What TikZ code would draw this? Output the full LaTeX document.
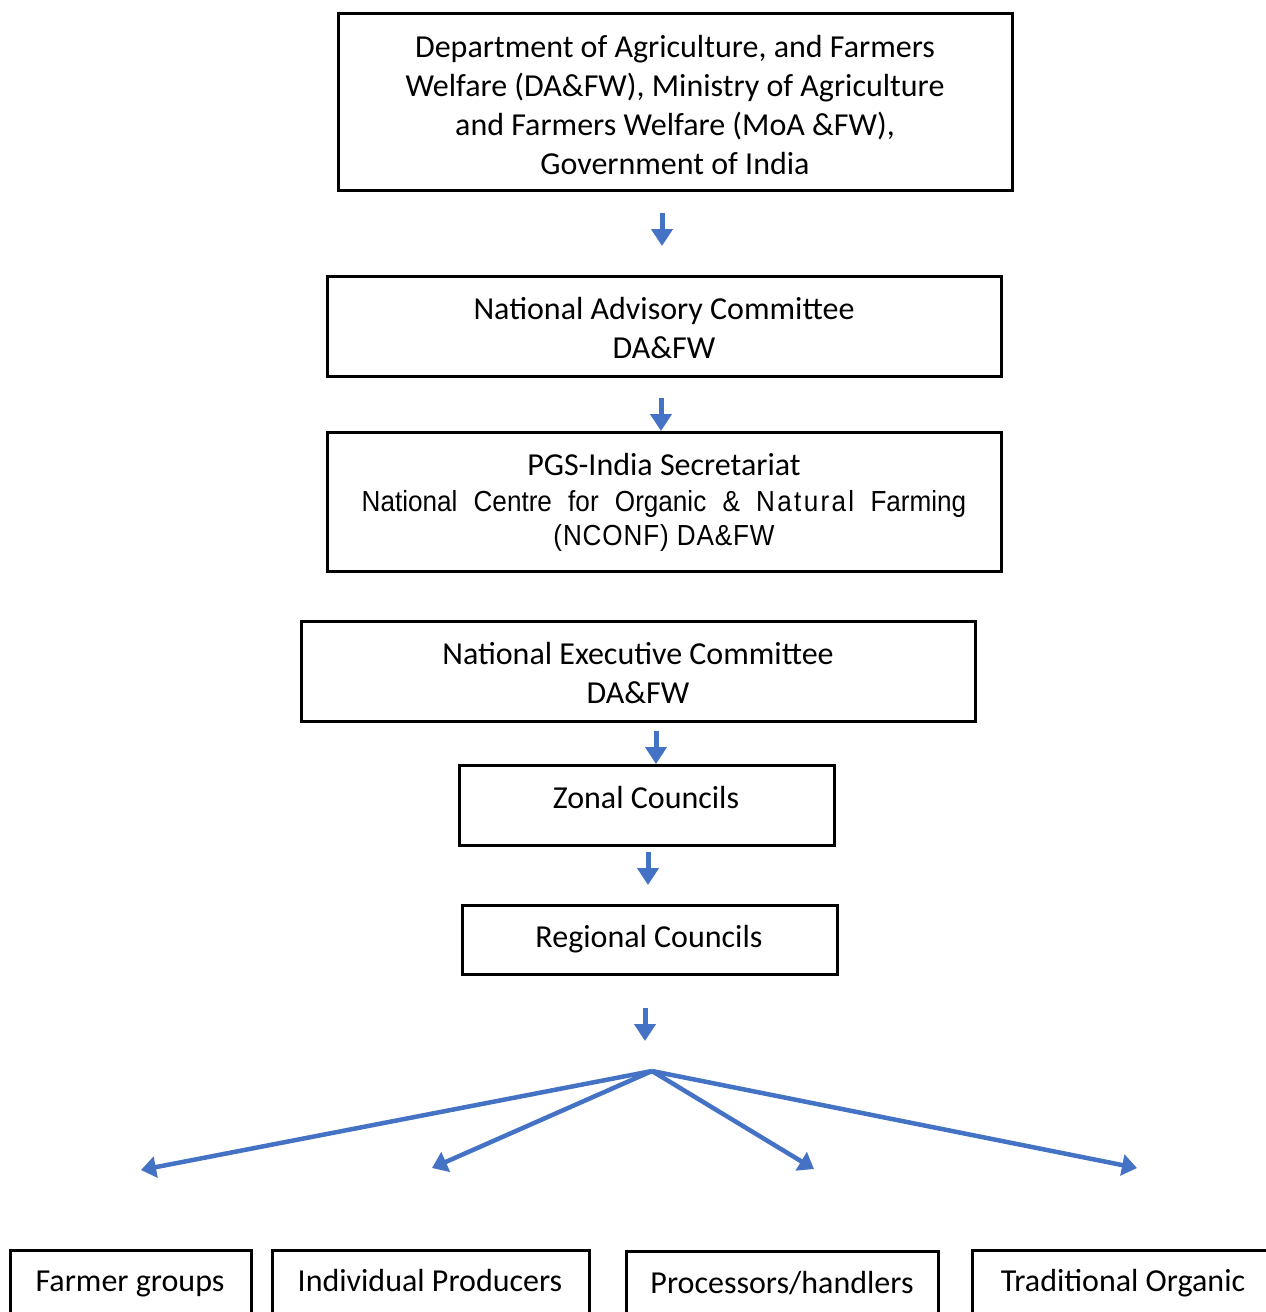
\documentclass[tikz,border=0pt]{standalone}
\usepackage{fontspec}
\setmainfont{Carlito}
\newfontfamily\arialf[FakeStretch=0.9]{Liberation Sans}
\usetikzlibrary{arrows.meta}
\definecolor{arrblue}{HTML}{4472C4}
\begin{document}
\begin{tikzpicture}[x=1pt,y=-1pt,
  box/.style={draw=black,line width=3pt,rectangle,inner sep=0pt,align=center,
    font=\fontsize{32}{39.3}\selectfont},
  lbl/.style={inner sep=0pt,anchor=base,font=\fontsize{32}{39.3}\selectfont},
  smallarr/.style={draw=arrblue,line width=5pt,-{Triangle[width=21pt,length=17pt]}},
  fanarr/.style={draw=arrblue,line width=4.5pt,-{Triangle[width=21pt,length=15pt]}}]
\useasboundingbox (0,0) rectangle (1266,1312);
\clip (0,0) rectangle (1266,1312);
\node[box,minimum width=674,minimum height=177] (dept) at (675,101.5) {};
\node[lbl,align=center,anchor=center] (deptT) at (675,105)
  {Department of Agriculture, and Farmers\\Welfare (DA\&FW), Ministry of Agriculture\\and Farmers Welfare (MoA \&FW),\\Government of India};
\node[box,minimum width=674,minimum height=100] (nac) at (664,326) {};
\node[lbl,align=center,anchor=center] (nacT) at (664,328)
  {National Advisory Committee\\DA\&FW};
\node[box,minimum width=674,minimum height=139] (sec) at (664,501.5) {};
\node[lbl] (secT1) at (664,475) {PGS-India Secretariat};
\node[lbl,font=\arialf\fontsize{29}{35}\selectfont] (secT2) at (664,511)
  {National\hspace{9pt} Centre\hspace{9pt} for\hspace{9pt} Organic\hspace{9pt} \&\hspace{9pt} {\addfontfeature{LetterSpace=8}Natural}\hspace{9pt} Farming};
\node[lbl,font=\arialf\fontsize{29}{35}\selectfont] (secT3) at (664,545)
  {{\addfontfeature{LetterSpace=3}(NCONF)}\hspace{8pt}{\addfontfeature{LetterSpace=3}DA\&FW}};
\node[box,minimum width=674,minimum height=100] (nec) at (638,671) {};
\node[lbl,align=center,anchor=center] (necT) at (638,673)
  {National Executive Committee\\DA\&FW};
\node[box,minimum width=375,minimum height=80] (zonal) at (646.5,805) {};
\node[lbl] (zonalT) at (646,808) {Zonal Councils};
\node[box,minimum width=375,minimum height=69] (regional) at (649.5,939.5) {};
\node[lbl] (regionalT) at (649,947) {Regional Councils};
\node[box,minimum width=241,minimum height=120,anchor=north] (farmer) at (130.5,1249) {};
\node[lbl] (farmerT) at (130,1291) {Farmer groups};
\node[box,minimum width=317,minimum height=120,anchor=north] (indiv) at (430.5,1249) {};
\node[lbl] (indivT) at (430,1291) {Individual Producers};
\node[box,minimum width=312,minimum height=120,anchor=north] (proc) at (782,1250) {};
\node[lbl] (procT) at (782,1293) {Processors/handlers};
\node[box,minimum width=330,minimum height=120,anchor=north] (trad) at (1137,1249) {};
\node[lbl] (tradT) at (1123,1291) {Traditional Organic};
% small arrows
\coordinate (a1s) at (662,213); \coordinate (a1e) at (662,246);
\coordinate (a2s) at (661,398); \coordinate (a2e) at (661,431);
\coordinate (a3s) at (656,731); \coordinate (a3e) at (656,764);
\coordinate (a4s) at (648,852); \coordinate (a4e) at (648,885);
\coordinate (a5s) at (645,1008); \coordinate (a5e) at (645,1041);
\foreach \s/\e in {a1s/a1e,a2s/a2e,a3s/a3e,a4s/a4e,a5s/a5e}
  \draw[smallarr] (\s) -- (\e);
% fan
\coordinate (apex) at (652,1071);
\coordinate (f1) at (141,1170);
\coordinate (f2) at (432,1168);
\coordinate (f3) at (814,1169);
\coordinate (f4) at (1137,1168);
\foreach \e in {f1,f2,f3,f4}
  \draw[fanarr] (apex) -- (\e);
\end{tikzpicture}
\end{document}
